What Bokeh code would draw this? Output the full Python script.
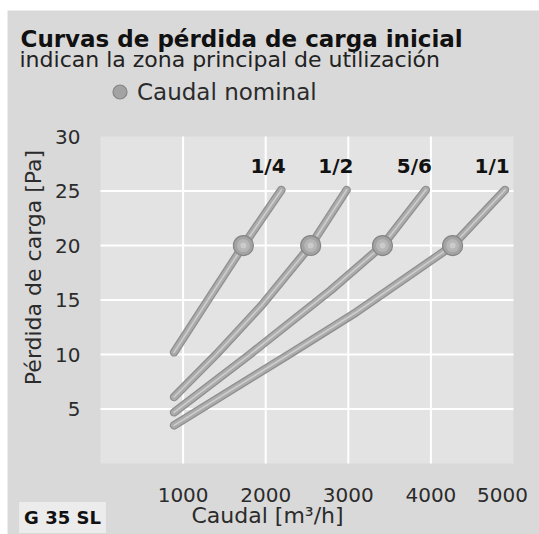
from bokeh.plotting import figure
from bokeh.models import Label, Range1d, FixedTicker, Legend, LegendItem, ColumnDataSource, BoxAnnotation
from bokeh.core.properties import value
from bokeh.embed import file_html
from bokeh.resources import INLINE

FONT = "DejaVu Sans"

# ---- data ----
x_ticks = [1000, 2000, 3000, 4000]
y_ticks = [5, 10, 15, 20, 25, 30]
x_max = 5000
y_max = 30

curve_names = ["1/4", "1/2", "5/6", "1/1"]
q_14 = [890, 1300, 1730, 2190]
dp_14 = [10.2, 15.0, 20.0, 25.1]
q_12 = [890, 1400, 1950, 2545, 2980]
dp_12 = [6.1, 10.0, 14.5, 20.0, 25.1]
q_56 = [890, 1806, 2788, 3414, 3939]
dp_56 = [4.7, 10.0, 15.9, 20.0, 25.1]
q_11 = [890, 2279, 3100, 4263, 4897]
dp_11 = [3.5, 10.0, 13.9, 20.0, 25.1]

nominal_q = [1730, 2545, 3414, 4263]
nominal_dp = [20, 20, 20, 20]

label_q = [2028, 2849, 3799, 4742]
label_dp = [27.3, 27.3, 27.3, 27.3]

curves = [(q_14, dp_14), (q_12, dp_12), (q_56, dp_56), (q_11, dp_11)]

# frame covers the whole canvas; the chart area (0..5000, 0..30) sits inside it
p = figure(width=539, height=534, output_backend="svg", toolbar_location=None,
           x_range=Range1d(-1211, 5315), y_range=Range1d(-6.51, 42.48),
           min_border_left=0, min_border_right=0, min_border_top=0, min_border_bottom=0)

p.border_fill_color = "white"
p.background_fill_color = "white"
p.outline_line_color = None
p.xgrid.visible = False
p.ygrid.visible = False

# grey card (extends to right and bottom edges)
p.add_layout(BoxAnnotation(left=-1126, top=41.56, fill_color="#d9d9d9", fill_alpha=1,
                           line_color=None, level="underlay"))
# chart area
p.add_layout(BoxAnnotation(left=0, right=x_max, bottom=0, top=y_max, fill_color="#e3e3e3",
                           fill_alpha=1, line_color=None, level="underlay"))

# grid lines limited to the chart area
p.segment(x0=x_ticks, y0=[0] * len(x_ticks), x1=x_ticks, y1=[y_max] * len(x_ticks),
          line_color="white", line_width=2)
p.segment(x0=[0] * (len(y_ticks) - 1), y0=y_ticks[:-1], x1=[x_max] * (len(y_ticks) - 1),
          y1=y_ticks[:-1], line_color="white", line_width=2)

for ax in (p.xaxis[0], p.yaxis[0]):
    ax.fixed_location = 0
    ax.axis_line_color = None
    ax.major_tick_line_color = None
    ax.minor_tick_line_color = None
    ax.major_label_text_font = FONT
    ax.major_label_text_font_size = "20px"
    ax.major_label_text_color = "#2b2b2b"

p.xaxis.ticker = FixedTicker(ticks=x_ticks)
p.xaxis.major_label_standoff = 18
p.yaxis.ticker = FixedTicker(ticks=y_ticks)
p.yaxis.major_label_standoff = 14
p.yaxis.axis_label = "Pérdida de carga [Pa]"
p.yaxis.axis_label_text_font = FONT
p.yaxis.axis_label_text_font_style = "normal"
p.yaxis.axis_label_text_font_size = "22px"
p.yaxis.axis_label_text_color = "#2b2b2b"
p.yaxis.axis_label_standoff = 6

# tubes
for q, dp in curves:
    p.line(q, dp, line_width=8.5, line_color="#8e8e8e", line_cap="round", line_join="round")
    p.line(q, dp, line_width=6, line_color="#ababab", line_cap="round", line_join="round")
    p.line(q, dp, line_width=1.6, line_color="#cdcdcd", line_cap="round", line_join="round")

src = ColumnDataSource(dict(q=nominal_q, dp=nominal_dp))
nom = p.scatter("q", "dp", source=src, size=20, fill_color="#a3a3a3", line_color="#858585", line_width=1.2)
p.scatter("q", "dp", source=src, size=13, fill_color="#b6b6b6", line_color=None)
p.scatter("q", "dp", source=src, size=6, fill_color="#cbcbcb", line_color=None)

lsrc = ColumnDataSource(dict(q=label_q, dp=label_dp, t=curve_names))
p.text("q", "dp", text="t", source=lsrc, text_font=value(FONT), text_font_style="bold",
       text_font_size="20px", text_align="center", text_baseline="middle", text_color="#111111")

legend = Legend(items=[LegendItem(label="Caudal nominal", renderers=[nom])],
                location=(102, 425), orientation="vertical",
                glyph_width=35, glyph_height=35, label_standoff=0, padding=0, margin=0, spacing=0,
                border_line_color=None, background_fill_alpha=0,
                label_text_font=FONT, label_text_font_size="23px", label_text_color="#2b2b2b")
p.add_layout(legend, "center")

p.add_layout(Label(x=20, y=496, x_units="screen", y_units="screen",
                   text="Curvas de pérdida de carga inicial", text_font=FONT,
                   text_font_style="bold", text_font_size="23px", text_color="#111111",
                   text_baseline="alphabetic"))
p.add_layout(Label(x=19, y=475.5, x_units="screen", y_units="screen",
                   text="indican la zona principal de utilización", text_font=FONT,
                   text_font_size="22px", text_color="#222222", text_baseline="alphabetic"))
p.add_layout(Label(x=x_max, y=40, x_units="data", y_units="screen", x_offset=-11,
                   text="5000", text_font=FONT, text_font_size="20px", text_color="#2b2b2b",
                   text_align="center", text_baseline="middle"))
p.add_layout(Label(x=191, y=19, x_units="screen", y_units="screen",
                   text="Caudal [m³/h]", text_font=FONT, text_font_size="22px",
                   text_color="#2b2b2b", text_baseline="alphabetic"))
p.add_layout(Label(x=62, y=17, x_units="screen", y_units="screen",
                   text="G 35 SL", text_font=FONT, text_font_style="bold", text_font_size="18px",
                   text_color="#111111", text_align="center", text_baseline="middle",
                   background_fill_color="#ececec", padding=5))

open("out.html", "w").write(file_html(p, INLINE))
